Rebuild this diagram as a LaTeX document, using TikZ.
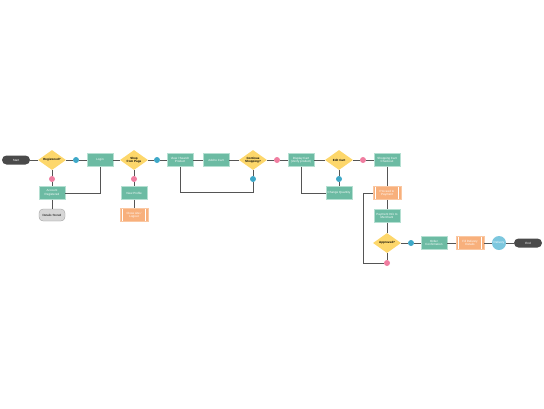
\documentclass[tikz,border=0pt]{standalone}
\usepackage{fontspec}
\setmainfont{Liberation Sans}
\usepackage{xcolor}
\usetikzlibrary{shapes.geometric}
\definecolor{tealbox}{HTML}{6CBBA3}
\definecolor{tealedge}{HTML}{B5E0D2}
\definecolor{yellowdec}{HTML}{FDD76B}
\definecolor{orangebox}{HTML}{F8B07C}
\definecolor{bluedot}{HTML}{3DA8C8}
\definecolor{pinkdot}{HTML}{F07DA0}
\definecolor{greystore}{HTML}{D6D6D6}
\definecolor{darkterm}{HTML}{4A4A4A}
\definecolor{linegrey}{HTML}{555555}
\definecolor{bluecircle}{HTML}{7CC7DE}

\begin{document}
\begin{tikzpicture}[x=1pt,y=-1pt]
    \tikzstyle{every node} = [font=\fontsize{3}{3.5}\selectfont,align=center,inner sep=0pt]
    \tikzstyle{process} = [draw=tealedge,line width=0.4pt,fill=tealbox,text=white,minimum width=26pt,minimum height=13pt]
    \tikzstyle{decision} = [diamond,fill=yellowdec,aspect=1.4,minimum width=28pt,minimum height=20pt,font=\fontsize{3}{3.5}\selectfont\bfseries]
    \tikzstyle{predef} = [draw=orangebox!70,fill=orangebox,text=white,minimum width=28pt,minimum height=13pt,
        path picture={\draw[white,line width=0.5pt] ([xshift=2.5pt]path picture bounding box.north west) -- ([xshift=2.5pt]path picture bounding box.south west);
        \draw[white,line width=0.5pt] ([xshift=-2.5pt]path picture bounding box.north east) -- ([xshift=-2.5pt]path picture bounding box.south east);}]
    \tikzstyle{terminal} = [fill=darkterm,text=white,rounded corners=4.5pt,minimum width=28pt,minimum height=9pt]
    \tikzstyle{yesdot} = [circle,fill=bluedot,minimum size=6pt]
    \tikzstyle{nodot} = [circle,fill=pinkdot,minimum size=6pt]
    \tikzstyle{link} = [draw=linegrey,line width=1pt]
        \useasboundingbox (0,0) rectangle (544,408);
        \node[terminal] (start) at (16,160) {Start};
        \node[decision] (reg) at (52,160) {Registered?};
        \node[yesdot] (y1) at (76,160) {};
        \node[process] (login) at (100,160) {Login};
        \node[nodot] (n1) at (52,179) {};
        \node[process] (accreg) at (52,193) {Account\\Registered};
        \node[fill=greystore,draw=greystore!70!black,line width=0.3pt,rounded corners=4pt,minimum width=26pt,minimum height=12pt] (stored) at (52,215) {Details Stored};
        \node[decision] (shop) at (134,160) {Shop\\from Page};
        \node[yesdot] (y2) at (157,160) {};
        \node[nodot] (n2) at (134,179) {};
        \node[process] (profile) at (134,193) {View Profile};
        \node[predef] (logout) at (134,215) {Close site /\\Logout};
        \node[process] (search) at (180,160) {View / Search\\Product};
        \node[process] (addcart) at (216,160) {Add to Cart};
        \node[decision] (contshop) at (253,160) {Continue\\Shopping?};
        \node[yesdot] (y3) at (253,179) {};
        \node[nodot] (n3) at (277,160) {};
        \node[process] (display) at (301,160) {Display Cart\\(Verify product)};
        \node[decision] (edit) at (339,160) {Edit Cart};
        \node[yesdot] (y4) at (339,179) {};
        \node[process] (qty) at (339,193) {Change Quantity};
        \node[nodot] (n4) at (363,160) {};
        \node[process] (checkout) at (387,160) {Shopping Cart\\Checkout};
        \node[predef] (payment) at (387,193) {Proceed to\\Payment};
        \node[process] (merchant) at (387,216) {Payment Info to\\Merchant};
        \node[decision] (approved) at (387,243) {Approved?};
        \node[nodot] (n5) at (387,263) {};
        \node[yesdot] (y5) at (411,243) {};
        \node[process] (confirm) at (434,243) {Order\\Confirmation};
        \node[predef] (delivery) at (470,243) {Fill Delivery\\Details};
        \node[circle,fill=bluecircle,text=white,minimum size=14pt] (invoice) at (499,243) {Delivery};
        \node[terminal] (end) at (528,243) {End};
        \coordinate (loopA) at (253,192);
        \coordinate (loopB) at (363,263);
        \path[link] (start) -- (reg);
        \path[link] (reg) -- (y1) -- (login);
        \path[link] (reg) -- (n1) -- (accreg) -- (stored);
        \path[link] (accreg) -| (login);
        \path[link] (login) -- (shop);
        \path[link] (shop) -- (y2) -- (search);
        \path[link] (shop) -- (n2) -- (profile) -- (logout);
        \path[link] (search) -- (addcart) -- (contshop);
        \path[link] (search) |- (loopA) -- (y3) -- (contshop);
        \path[link] (contshop) -- (n3) -- (display);
        \path[link] (display) -- (edit) -- (n4) -- (checkout);
        \path[link] (edit) -- (y4) -- (qty);
        \path[link] (display) |- (qty);
        \path[link] (checkout) -- (payment) -- (merchant) -- (approved);
        \path[link] (approved) -- (n5) -- (loopB) |- (payment);
        \path[link] (approved) -- (y5) -- (confirm) -- (delivery) -- (invoice) -- (end);
    \end{tikzpicture}
\end{document}
